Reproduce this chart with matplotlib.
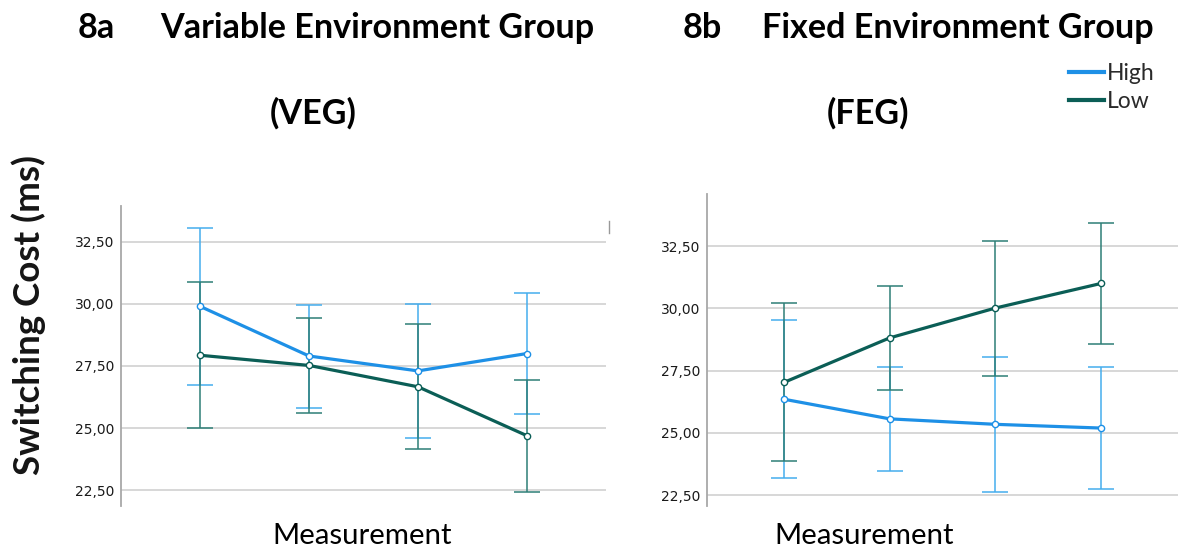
import numpy as np
import matplotlib
matplotlib.use('Agg')
import matplotlib.pyplot as plt
from matplotlib.ticker import FuncFormatter
from matplotlib.lines import Line2D

# Switching cost (ms) per measurement, with error bar limits
measurements = [1, 2, 3, 4]

veg_high = [29.9, 27.9, 27.3, 28.0]
veg_high_lo = [26.74, 25.82, 24.58, 25.58]
veg_high_hi = [33.04, 29.97, 30.0, 30.44]
veg_low = [27.93, 27.52, 26.66, 24.69]
veg_low_lo = [25.01, 25.59, 24.17, 22.44]
veg_low_hi = [30.86, 29.45, 29.17, 26.94]

feg_high = [26.35, 25.56, 25.34, 25.19]
feg_high_lo = [23.19, 23.47, 22.61, 22.75]
feg_high_hi = [29.54, 27.65, 28.06, 27.63]
feg_low = [27.02, 28.81, 30.01, 31.0]
feg_low_lo = [23.85, 26.72, 27.29, 28.58]
feg_low_hi = [30.2, 30.88, 32.72, 33.44]

yticks = [22.5, 25.0, 27.5, 30.0, 32.5]

high_col = '#1E90E6'
high_err = '#45ADEE'
low_col = '#0B5E56'
low_err = '#2E7E77'


def draw_panel(ax, high, high_lo, high_hi, low, low_lo, low_hi, ylim):
    x = np.array(measurements)
    for vals, lo, hi, ecol in [(high, high_lo, high_hi, high_err), (low, low_lo, low_hi, low_err)]:
        vals = np.array(vals)
        yerr = [vals - np.array(lo), np.array(hi) - vals]
        ax.errorbar(x, vals, yerr=yerr, fmt='none', ecolor=ecol, elinewidth=1.1,
                    capsize=9.7, capthick=1.1, zorder=2)
    ax.plot(x, high, color=high_col, lw=2.3, marker='o', ms=4.5, mfc='white',
            mec=high_col, mew=1.0, zorder=3)
    ax.plot(x, low, color=low_col, lw=2.3, marker='o', ms=4.5, mfc='white',
            mec=low_col, mew=1.0, zorder=4)
    ax.set_xlim(0.275, 4.725)
    ax.set_ylim(*ylim)
    ax.set_yticks(yticks)
    ax.yaxis.set_major_formatter(FuncFormatter(lambda v, p: ('%.2f' % v).replace('.', ',')))
    ax.set_xticks([])
    ax.grid(axis='y', color='#D4D4D4', lw=1.3)
    ax.set_axisbelow(True)
    for s in ['top', 'right', 'bottom']:
        ax.spines[s].set_visible(False)
    ax.spines['left'].set_color('#A8A8A8')
    ax.spines['left'].set_linewidth(1.3)
    ax.tick_params(axis='y', length=0, pad=5, labelsize=10, labelcolor='#1a1a1a')


fig = plt.figure(figsize=(11.8, 5.48), dpi=100)
ax1 = fig.add_axes([121 / 1180, 1 - 506 / 548, 485 / 1180, 300 / 548])
ax2 = fig.add_axes([707 / 1180, 1 - 506 / 548, 471 / 1180, 312 / 548])

draw_panel(ax1, veg_high, veg_high_lo, veg_high_hi, veg_low, veg_low_lo, veg_low_hi, (21.86, 33.94))
draw_panel(ax2, feg_high, feg_high_lo, feg_high_hi, feg_low, feg_low_lo, feg_low_hi, (22.06, 34.59))

tfont = 'Lato'
tsize = 24.6
fig.text(78 / 1180, 1 - 28 / 548, '8a', fontsize=tsize, fontweight='bold', family=tfont, va='center')
fig.text(160 / 1180, 1 - 28 / 548, 'Variable Environment Group', fontsize=tsize, fontweight='bold',
         family=tfont, va='center')
fig.text(313 / 1180, 1 - 113 / 548, '(VEG)', fontsize=tsize, fontweight='bold', family=tfont,
         ha='center', va='center')
fig.text(683 / 1180, 1 - 28 / 548, '8b', fontsize=tsize, fontweight='bold', family=tfont, va='center')
fig.text(762 / 1180, 1 - 28 / 548, 'Fixed Environment Group', fontsize=tsize, fontweight='bold',
         family=tfont, va='center')
fig.text(868 / 1180, 1 - 113 / 548, '(FEG)', fontsize=tsize, fontweight='bold', family=tfont,
         ha='center', va='center')

fig.text(29 / 1180, 1 - 315 / 548, 'Switching Cost (ms)', fontsize=26.5, fontweight='bold',
         family=tfont, rotation=90, ha='center', va='center', color='#151515')
fig.text(362 / 1180, 1 - 536 / 548, 'Measurement', fontsize=21.2, family=tfont, ha='center', va='center')
fig.text(864 / 1180, 1 - 536 / 548, 'Measurement', fontsize=21.2, family=tfont, ha='center', va='center')

handles = [Line2D([], [], color=high_col, lw=3), Line2D([], [], color=low_col, lw=3)]
fig.legend(handles, ['High', 'Low'], loc='upper left', bbox_to_anchor=(1058 / 1180, 1 - 52 / 548),
           frameon=False, prop={'family': tfont, 'size': 16.5}, handlelength=1.5,
           handletextpad=0.12, labelspacing=0.28, borderpad=0, labelcolor='#2a2a2a')

# small stray tick mark from the source output
fig.add_artist(Line2D([609 / 1180, 609 / 1180], [1 - 221 / 548, 1 - 233 / 548], color='#999999', lw=1))

fig.savefig('out.png', dpi=100)
